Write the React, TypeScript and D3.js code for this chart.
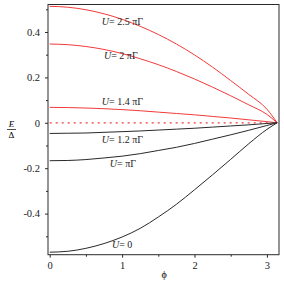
import { useEffect, useRef } from "react";
import * as d3 from "d3";

// phase samples (radians) shared by all curves
const phi = [0, 0.25, 0.5, 0.75, 1.0, 1.25, 1.5, 1.75, 2.0, 2.25, 2.5, 2.75, 3.0, Math.PI];

// E/Δ, one array per U
const u25 = [0.513, 0.509, 0.498, 0.48, 0.456, 0.425, 0.389, 0.347, 0.299, 0.245, 0.186, 0.125, 0.06, 0];
const u20 = [0.347, 0.344, 0.336, 0.323, 0.305, 0.282, 0.256, 0.226, 0.193, 0.157, 0.119, 0.079, 0.037, 0];
const u14 = [0.068, 0.067, 0.065, 0.062, 0.058, 0.053, 0.047, 0.041, 0.035, 0.028, 0.021, 0.013, 0.005, 0];
const u12 = [-0.047, -0.046, -0.045, -0.042, -0.039, -0.036, -0.032, -0.028, -0.024, -0.019, -0.014, -0.009, -0.003, 0];
const u10 = [-0.167, -0.166, -0.162, -0.155, -0.147, -0.136, -0.122, -0.108, -0.091, -0.072, -0.053, -0.033, -0.012, 0];
const u00 = [-0.57, -0.566, -0.553, -0.532, -0.503, -0.465, -0.415, -0.359, -0.295, -0.229, -0.161, -0.092, -0.029, 0];

const curves = [
  { label: "2.5 πΓ", values: u25, red: true, lx: 0.72, ly: 0.43 },
  { label: "2 πΓ", values: u20, red: true, lx: 0.75, ly: 0.28 },
  { label: "1.4 πΓ", values: u14, red: true, lx: 0.72, ly: 0.08 },
  { label: "1.2 πΓ", values: u12, red: false, lx: 0.72, ly: -0.09 },
  { label: "πΓ", values: u10, red: false, lx: 0.83, ly: -0.195 },
  { label: "0", values: u00, red: false, lx: 0.86, ly: -0.55 },
];

const xMajor = [0, 1, 2, 3];
const xMinor = [0.5, 1.5, 2.5];
const yMajor = [-0.4, -0.2, 0, 0.2, 0.4];
const yMinor = [-0.5, -0.3, -0.1, 0.1, 0.3, 0.5];

const RED = "#f23a3a";
const DARK = "#2a2a2a";
const FONT = "'Liberation Serif', 'DejaVu Serif', serif";

export default function App() {
  const ref = useRef<SVGSVGElement | null>(null);

  useEffect(() => {
    const svg = d3.select(ref.current);
    svg.selectAll("*").remove();

    const left = 48, right = 279, top = 4.5, bottom = 254.7;
    const x = d3.scaleLinear().domain([-0.0235, 3.167]).range([left, right]);
    const y = d3.scaleLinear().domain([-0.581, 0.521]).range([bottom, top]);

    // axes with minor ticks
    const axisStyle = (g: any) => {
      g.select(".domain").remove();
      g.selectAll("line").attr("stroke", DARK);
      g.selectAll("text").attr("font-family", FONT).attr("font-size", 10.5).attr("fill", "#222");
    };

    svg.append("g")
      .attr("transform", `translate(0,${bottom})`)
      .call(d3.axisBottom(x).tickValues(xMinor).tickSize(2).tickFormat(() => ""))
      .call(axisStyle);
    svg.append("g")
      .attr("transform", `translate(0,${bottom})`)
      .call(d3.axisBottom(x).tickValues(xMajor).tickSize(3).tickPadding(4).tickFormat(d3.format("d")))
      .call(axisStyle);
    svg.append("g")
      .attr("transform", `translate(${left},0)`)
      .call(d3.axisLeft(y).tickValues(yMinor).tickSize(2).tickFormat(() => ""))
      .call(axisStyle);
    svg.append("g")
      .attr("transform", `translate(${left},0)`)
      .call(d3.axisLeft(y).tickValues(yMajor).tickSize(3).tickPadding(5)
        .tickFormat((d: any) => (d === 0 ? "0" : d3.format(".1f")(d).replace("−", "-"))))
      .call(axisStyle);

    // frame
    svg.append("rect")
      .attr("x", left).attr("y", top)
      .attr("width", right - left).attr("height", bottom - top)
      .attr("fill", "none").attr("stroke", DARK).attr("stroke-width", 1);

    // zero reference, dotted
    svg.append("line")
      .attr("x1", x(0)).attr("x2", x(Math.PI))
      .attr("y1", y(0)).attr("y2", y(0))
      .attr("stroke", RED).attr("stroke-width", 1.2)
      .attr("stroke-dasharray", "2,4");

    const line = d3.line<number>()
      .x((_, i) => x(phi[i]))
      .y((d) => y(d))
      .curve(d3.curveMonotoneX);

    curves.forEach((c) => {
      svg.append("path")
        .datum(c.values)
        .attr("fill", "none")
        .attr("stroke", c.red ? RED : DARK)
        .attr("stroke-width", 1)
        .attr("d", line);

      const t = svg.append("text")
        .attr("x", x(c.lx)).attr("y", y(c.ly))
        .attr("font-family", FONT).attr("font-size", 10).attr("fill", "#222");
      t.append("tspan").attr("font-style", "italic").text("U");
      t.append("tspan").text("= " + c.label);
    });

    // axis labels
    svg.append("text")
      .attr("x", 11.5).attr("y", 127)
      .attr("text-anchor", "middle")
      .attr("font-family", FONT).attr("font-style", "italic").attr("font-size", 9)
      .text("E");
    svg.append("line")
      .attr("x1", 7).attr("x2", 16).attr("y1", 129.5).attr("y2", 129.5)
      .attr("stroke", "#222").attr("stroke-width", 0.8);
    svg.append("text")
      .attr("x", 11.5).attr("y", 137.5)
      .attr("text-anchor", "middle")
      .attr("font-family", FONT).attr("font-size", 9)
      .text("Δ");
    svg.append("text")
      .attr("x", x(1.58)).attr("y", 278)
      .attr("text-anchor", "middle")
      .attr("font-family", FONT).attr("font-size", 10)
      .text("ϕ");
  }, []);

  return (
    <svg
      ref={ref}
      width={284}
      height={284}
      style={{ position: "absolute", left: 0, top: 0, background: "#fff" }}
    />
  );
}
